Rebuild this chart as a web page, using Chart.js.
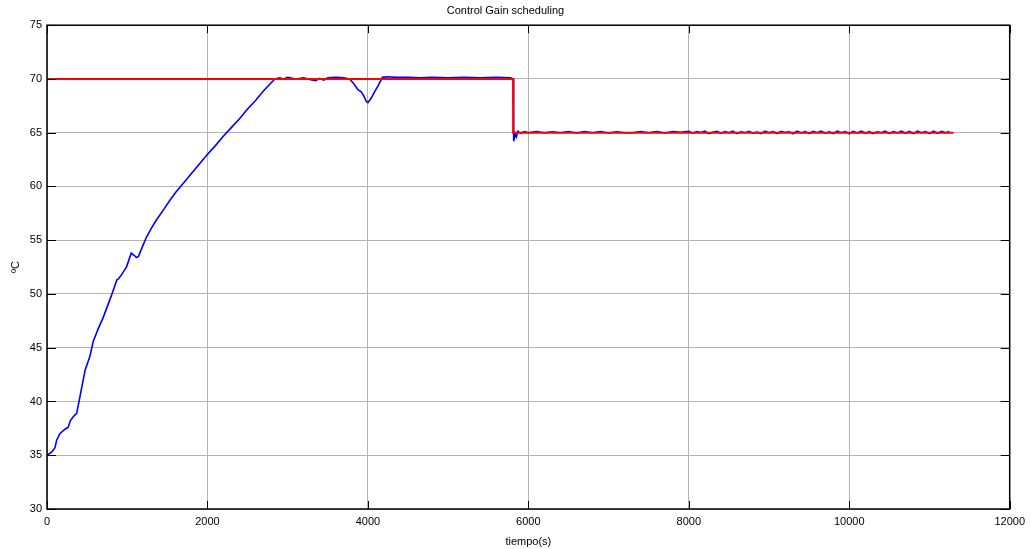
<!DOCTYPE html>
<html>
<head>
<meta charset="utf-8">
<script src="https://cdn.jsdelivr.net/npm/chart.js@4.4.1/dist/chart.umd.min.js"></script>
<style>
  html, body { margin: 0; padding: 0; background: #fff; }
  #wrap { width: 1031px; height: 549px; }
</style>
</head>
<body>
<div id="wrap"><canvas id="myChart" width="1031" height="549"></canvas></div>
<script>
// medida (azul)
let blueTime = [0, 60, 100, 120, 160, 220, 265, 290, 330, 370, 420, 475, 535, 577, 640, 700, 765, 820, 870, 890,
  930, 990, 1050, 1085, 1115, 1140, 1190, 1240, 1300, 1365, 1450, 1530, 1610, 1700, 1800, 1900, 1990, 2100,
  2200, 2300, 2400, 2500, 2600, 2700, 2840,
  2900, 2950, 3000, 3100, 3200, 3300, 3350, 3400, 3450, 3500, 3600, 3700, 3770, 3820, 3875, 3917, 3950,
  3980, 4000, 4040, 4083, 4130, 4180, 4250, 4350, 4500, 4650, 4800, 5000, 5200, 5400, 5600, 5780, 5812,
  5815, 5820, 5835, 5850, 5870, 5900, 5950,
  6000, 6100, 6200, 6300, 6400, 6500, 6600, 6700, 6800, 6900, 7000, 7100, 7200, 7300, 7400, 7500, 7600,
  7700, 7800, 7900, 8000, 8050, 8100, 8150, 8200, 8250, 8300, 8350, 8400, 8450, 8500, 8550, 8600, 8650,
  8700, 8750, 8800, 8850, 8900, 8950, 9000, 9050, 9100, 9150, 9200, 9250, 9300, 9350, 9400, 9450, 9500,
  9550, 9600, 9650, 9700, 9750, 9800, 9850, 9900, 9950, 10000, 10050, 10100, 10150, 10200, 10250, 10300,
  10350, 10400, 10450, 10500, 10550, 10600, 10650, 10700, 10750, 10800, 10850, 10900, 10950, 11000, 11050,
  11100, 11150, 11200, 11250, 11300];
let blueTemp = [35, 35.3, 35.7, 36.4, 37, 37.4, 37.6, 38.2, 38.6, 38.9, 40.8, 42.9, 44.2, 45.6, 46.8, 47.8, 49.1, 50.2, 51.3, 51.4,
  51.8, 52.5, 53.8, 53.6, 53.4, 53.5, 54.4, 55.3, 56.1, 56.9, 57.8, 58.7, 59.5, 60.3, 61.2, 62.1, 62.9, 63.8,
  64.7, 65.5, 66.3, 67.2, 68.0, 68.9, 70.0,
  70.1, 70.0, 70.15, 70.0, 70.1, 69.9, 69.85, 70.05, 69.9, 70.1, 70.15, 70.1, 70.0, 69.6, 69.0, 68.8, 68.4,
  67.9, 67.8, 68.2, 68.8, 69.4, 70.15, 70.2, 70.15, 70.15, 70.1, 70.15, 70.1, 70.15, 70.1, 70.15, 70.1, 70.0,
  67.4, 64.2, 64.9, 64.6, 65.15, 64.95, 65.1,
  65.0, 65.1, 65.0, 65.08, 65.0, 65.1, 64.98, 65.1, 65.0, 65.1, 64.98, 65.08, 65.0, 65.0, 65.1, 65.0, 65.1,
  64.98, 65.1, 65.05, 65.12, 64.95, 65.1, 65.02, 65.15, 64.92, 65.05, 65.12, 64.95, 65.1, 65.0, 65.15, 64.92, 65.08,
  65.0, 65.12, 64.95, 65.05, 64.92, 65.15, 65.0, 65.1, 64.92, 65.12, 65.02, 65.08, 64.9, 65.15, 64.98, 65.1,
  64.92, 65.12, 65.0, 65.15, 64.95, 65.08, 64.92, 65.15, 65.0, 65.1, 64.9, 65.12, 64.98, 65.15, 64.95, 65.1,
  64.92, 65.08, 65.0, 65.15, 64.92, 65.1, 64.98, 65.15, 64.95, 65.12, 64.92, 65.15, 65.0, 65.1, 64.92,
  65.15, 64.95, 65.12, 65.0, 65.1];

// referencia (rojo)
let redTime = [0, 5810, 5810, 11300];
let redTemp = [70, 70, 65, 65];

let xTicks = [0, 2000, 4000, 6000, 8000, 10000, 12000];
let yTicks = [30, 35, 40, 45, 50, 55, 60, 65, 70, 75];

function toPoints(xs, ys) {
  return xs.map(function (x, i) { return { x: x, y: ys[i] }; });
}

// caja negra y marcas hacia dentro (estilo matlab)
const boxPlugin = {
  id: 'box',
  afterDraw(chart) {
    let ctx = chart.ctx;
    let a = chart.chartArea;
    let xs = chart.scales.x, ys = chart.scales.y;
    ctx.save();
    ctx.strokeStyle = '#000';
    ctx.lineWidth = 1;
    ctx.beginPath();
    xTicks.forEach(function (v) {
      let px = Math.round(xs.getPixelForValue(v)) + 0.5;
      ctx.moveTo(px, a.bottom); ctx.lineTo(px, a.bottom - 8);
      ctx.moveTo(px, a.top); ctx.lineTo(px, a.top + 8);
    });
    yTicks.forEach(function (v) {
      let py = Math.round(ys.getPixelForValue(v)) + 0.5;
      ctx.moveTo(a.left, py); ctx.lineTo(a.left + 9, py);
      ctx.moveTo(a.right, py); ctx.lineTo(a.right - 9, py);
    });
    ctx.stroke();
    ctx.lineWidth = 1.5;
    ctx.strokeRect(a.left, a.top, a.right - a.left, a.bottom - a.top);
    ctx.restore();
  }
};

const font = { family: "'Liberation Sans', Arial, sans-serif", size: 11, weight: 'normal' };

const config = {
  type: 'line',
  data: {
    datasets: [{
      label: 'referencia',
      data: toPoints(redTime, redTemp),
      borderColor: '#ff0000',
      borderWidth: 2,
      pointRadius: 0,
      fill: false,
      tension: 0
    }, {
      label: 'temperatura',
      data: toPoints(blueTime, blueTemp),
      borderColor: '#0000ff',
      borderWidth: 1.6,
      pointRadius: 0,
      fill: false,
      tension: 0
    }]
  },
  options: {
    responsive: false,
    animation: false,
    layout: { padding: { left: 0, right: 20, top: 0, bottom: 0 } },
    plugins: {
      legend: { display: false },
      tooltip: { enabled: false },
      title: {
        display: true,
        text: 'Control Gain scheduling',
        color: '#000',
        font: font,
        padding: { top: 4, bottom: 8 }
      }
    },
    scales: {
      x: {
        type: 'linear',
        min: 0,
        max: 12000,
        afterBuildTicks: function (s) { s.ticks = xTicks.map(function (v) { return { value: v }; }); },
        afterFit: function (s) { s.height = 40; },
        ticks: { color: '#000', font: font, padding: 6, maxRotation: 0, autoSkip: false,
          callback: function (v) { return String(v); } },
        grid: { color: '#b4b4b4', lineWidth: 1, drawTicks: false },
        border: { display: false },
        title: { display: true, text: 'tiempo(s)', color: '#000', font: font, padding: { top: 0, bottom: 0 } }
      },
      y: {
        type: 'linear',
        min: 30,
        max: 75,
        afterBuildTicks: function (s) { s.ticks = yTicks.map(function (v) { return { value: v }; }); },
        afterFit: function (s) { s.width = 47; },
        ticks: { color: '#000', font: font, padding: 5, autoSkip: false,
          callback: function (v) { return String(v); } },
        grid: { color: '#b4b4b4', lineWidth: 1, drawTicks: false },
        border: { display: false },
        title: { display: true, text: 'ºC', color: '#000', font: font, padding: { top: 9, bottom: 0 } }
      }
    }
  },
  plugins: [boxPlugin]
};

var myChart = new Chart(document.getElementById('myChart'), config);
</script>
</body>
</html>
